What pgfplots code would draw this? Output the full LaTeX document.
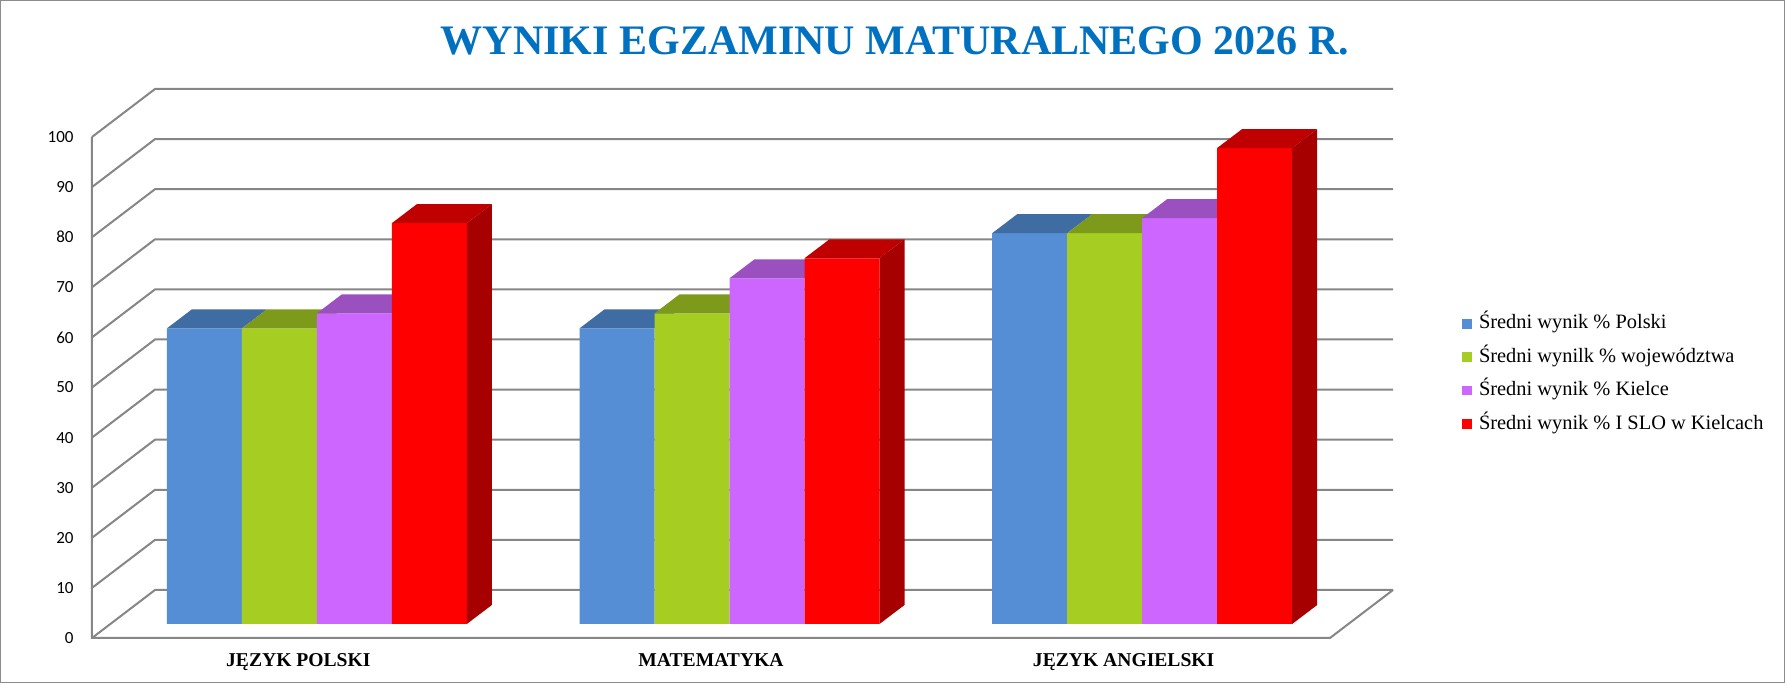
\documentclass[border=0pt]{standalone}
\usepackage{pgfplots}
\usepackage{pgfplotstable}
\pgfplotsset{compat=1.18}
\usepackage{fontspec}
\setmainfont{Liberation Serif}
\newfontfamily\carlito{Carlito}

\definecolor{cBlue}{RGB}{85,142,213}
\definecolor{cBlueT}{RGB}{64,108,164}
\definecolor{cGreen}{RGB}{166,206,34}
\definecolor{cGreenT}{RGB}{126,154,26}
\definecolor{cPurple}{RGB}{204,102,255}
\definecolor{cPurpleT}{RGB}{155,80,192}
\definecolor{cRed}{RGB}{255,0,0}
\definecolor{cRedT}{RGB}{192,0,0}
\definecolor{cRedS}{RGB}{166,0,0}
\definecolor{cTitle}{RGB}{0,112,192}
\definecolor{cGrid}{RGB}{134,134,134}
\definecolor{cFrame}{RGB}{140,140,140}

% top faces of the bars (parallelograms), one per bar position in a group
\pgfdeclareplotmark{topA}{\pgfpathmoveto{\pgfpoint{-75pt}{0pt}}\pgfpathlineto{\pgfpoint{-37.5pt}{0pt}}\pgfpathlineto{\pgfpoint{-25pt}{9.5pt}}\pgfpathlineto{\pgfpoint{-62.5pt}{9.5pt}}\pgfpathclose\pgfusepathqfill}
\pgfdeclareplotmark{topB}{\pgfpathmoveto{\pgfpoint{-37.5pt}{0pt}}\pgfpathlineto{\pgfpoint{0pt}{0pt}}\pgfpathlineto{\pgfpoint{12.5pt}{9.5pt}}\pgfpathlineto{\pgfpoint{-25pt}{9.5pt}}\pgfpathclose\pgfusepathqfill}
\pgfdeclareplotmark{topC}{\pgfpathmoveto{\pgfpoint{0pt}{0pt}}\pgfpathlineto{\pgfpoint{37.5pt}{0pt}}\pgfpathlineto{\pgfpoint{50pt}{9.5pt}}\pgfpathlineto{\pgfpoint{12.5pt}{9.5pt}}\pgfpathclose\pgfusepathqfill}
\pgfdeclareplotmark{topD}{\pgfpathmoveto{\pgfpoint{37.5pt}{0pt}}\pgfpathlineto{\pgfpoint{75pt}{0pt}}\pgfpathlineto{\pgfpoint{87.5pt}{9.5pt}}\pgfpathlineto{\pgfpoint{50pt}{9.5pt}}\pgfpathclose\pgfusepathqfill}
% side face of the last bar, height taken from the value
\pgfdeclareplotmark{sideD}{%
  \pgfmathsetmacro\sideA{-\barval*2.505}%
  \pgfmathsetmacro\sideB{9.5-\barval*2.505}%
  \pgfpathmoveto{\pgfpoint{75pt}{0pt}}%
  \pgfpathlineto{\pgfpoint{87.5pt}{9.5pt}}%
  \pgfpathlineto{\pgfpoint{87.5pt}{\sideB pt}}%
  \pgfpathlineto{\pgfpoint{75pt}{\sideA pt}}%
  \pgfpathclose\pgfusepathqfill}

\pgfplotsset{
  mybar/.style={ybar, bar width=37.5pt, draw=none,
    legend image code/.code={\fill[##1] (0pt,-2.4pt) rectangle (4.8pt,2.4pt);}},
}

\pgfplotstableread{
x   pl  woj kie slo
0.5 59  59  62  80
1.5 59  62  69  73
2.5 78  78  81  95
}\data

\begin{document}
\begin{tikzpicture}
\useasboundingbox (0,0) rectangle (892.5pt,341.5pt);
\draw[cFrame, line width=0.6pt] (0.3pt,0.3pt) rectangle (892.2pt,341.2pt);
\node[text=cTitle, font=\bfseries\fontsize{21}{25}\selectfont] at (447.5pt,321pt) {WYNIKI EGZAMINU MATURALNEGO 2026 R.};

% background: walls, floor, tick labels
\begin{axis}[
  at={(46pt,22.5pt)}, anchor=south west,
  scale only axis, width=619pt, height=250.5pt,
  xmin=0, xmax=3, ymin=0, ymax=100, clip=false,
  axis line style={draw=none}, major tick length=0pt,
  xtick={0.5,1.5,2.5},
  xticklabels={JĘZYK POLSKI, MATEMATYKA, JĘZYK ANGIELSKI},
  xticklabel style={font=\bfseries\fontsize{9.8}{11}\selectfont},
  xticklabel shift=4.2pt,
  ytick={0,10,...,100},
  yticklabel style={font=\carlito\fontsize{8.5}{10}\selectfont},
  yticklabel shift=5.7pt,
  /pgf/number format/assume math mode=true,
]
\pgfplotsinvokeforeach{0,10,...,100}{
  \draw[cGrid, line width=1pt] (axis cs:0,#1) -- (axis cs:0.15266,#1+9.58) -- (axis cs:3.15266,#1+9.58);
}
\draw[cGrid, line width=1pt] (axis cs:0,100) -- (axis cs:0,0) -- (axis cs:3,0) -- (axis cs:3.15266,9.58);
\end{axis}

% bars
\begin{axis}[
  at={(55.25pt,29.5pt)}, anchor=south west,
  scale only axis, width=619pt, height=250.5pt,
  xmin=0, xmax=3, ymin=0, ymax=100, clip=false, hide axis,
  clip marker paths=true,
  legend style={at={(1.0917,0.499)}, anchor=west, draw=none, fill=none,
    inner sep=0pt, font=\fontsize{10.2}{12}\selectfont,
    nodes={inner sep=0pt, text height=7pt, text depth=2pt},
    row sep=7.7pt,
    /tikz/every odd column/.append style={column sep=3.5pt}},
  legend cell align=left,
]
\addplot[mybar, bar shift=-56.25pt, fill=cBlue] table[x=x,y=pl]{\data};
\addlegendentry{Średni wynik \% Polski}
\addplot[forget plot, only marks, mark=topA, color=cBlueT] table[x=x,y=pl]{\data};

\addplot[mybar, bar shift=-18.75pt, fill=cGreen] table[x=x,y=woj]{\data};
\addlegendentry{Średni wynilk \% województwa}
\addplot[forget plot, only marks, mark=topB, color=cGreenT] table[x=x,y=woj]{\data};

\addplot[mybar, bar shift=18.75pt, fill=cPurple] table[x=x,y=kie]{\data};
\addlegendentry{Średni wynik \% Kielce}
\addplot[forget plot, only marks, mark=topC, color=cPurpleT] table[x=x,y=kie]{\data};

\addplot[mybar, bar shift=56.25pt, fill=cRed] table[x=x,y=slo]{\data};
\addlegendentry{Średni wynik \% I SLO w Kielcach}
\addplot[forget plot, only marks, mark=topD, color=cRedT] table[x=x,y=slo]{\data};
\addplot[forget plot, only marks, mark=sideD, color=cRedS,
  visualization depends on={y \as \barval}] table[x=x,y=slo]{\data};
\end{axis}
\end{tikzpicture}
\end{document}
